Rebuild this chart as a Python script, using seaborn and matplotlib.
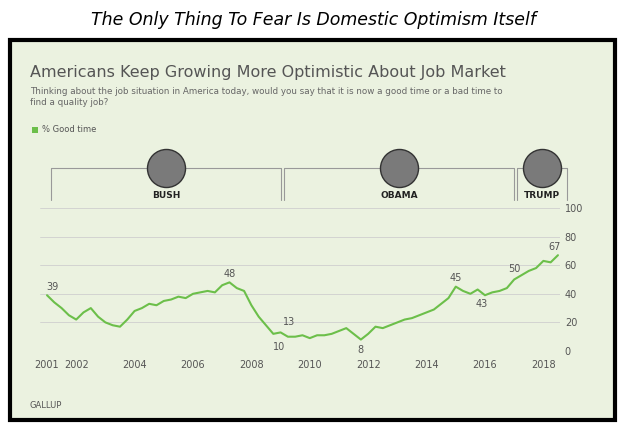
# gallup_jobs_demo.py
import pandas as pd
import numpy as np
import matplotlib.pyplot as plt
import matplotlib.transforms as mtransforms
from matplotlib.patches import Rectangle
import seaborn as sns

sns.set(style="white")

# ---------- Data (quarterly, % good time) ----------
good = [39, 34, 30, 25, 22, 27, 30, 24, 20, 18, 17, 22, 28, 30, 33, 32,
        35, 36, 38, 37, 40, 41, 42, 41, 46, 48, 44, 42, 32, 24, 18, 12,
        13, 10, 10, 11, 9, 11, 11, 12, 14, 16, 12, 8, 12, 17, 16, 18,
        20, 22, 23, 25, 27, 29, 33, 37, 45, 42, 40, 43, 39, 41, 42, 44,
        50, 53, 56, 58, 63, 62, 67]
df = pd.DataFrame({"year": 2001 + np.arange(len(good)) * 0.25, "good": good})

green = '#6cbf4a'
bg = '#ebf2e0'

fig = plt.figure(figsize=(6.27, 4.30), dpi=100)
fig.patch.set_facecolor('white')
fig.patches.append(Rectangle((10/627, 1-420/430), 605/627, 380/430, transform=fig.transFigure,
                             facecolor=bg, edgecolor='black', linewidth=3, zorder=-1))
fig.text(0.5, 1-20/430, 'The Only Thing To Fear Is Domestic Optimism Itself',
         ha='center', va='center', fontsize=12.5, style='italic', color='black')
fig.text(30/627, 1-72/430, 'Americans Keep Growing More Optimistic About Job Market',
         fontsize=11.5, color='#555555', va='center')
fig.text(30/627, 1-97/430, 'Thinking about the job situation in America today, would you say that it is now a good time or a bad time to\nfind a quality job?',
         fontsize=6.3, color='#666666', va='center', linespacing=1.4)
fig.patches.append(Rectangle((32/627, 1-133/430), 6/627, 6/430, transform=fig.transFigure,
                             facecolor=green, edgecolor='none'))
fig.text(42/627, 1-130/430, '% Good time', fontsize=6, color='#555555', va='center')
fig.text(30/627, 1-405/430, 'GALLUP', fontsize=6, color='#555555', va='center')

ax = fig.add_axes([40/627, 1-351/430, 520/627, 143/430])
ax.set_facecolor(bg)
sns.lineplot(data=df, x='year', y='good', ax=ax, color=green, linewidth=1.5)
ax.set_xlim(2000.76, 2018.57)
ax.set_ylim(0, 100)
ax.yaxis.tick_right()
ax.set_yticks([0, 20, 40, 60, 80, 100])
ax.set_xticks([2001, 2002, 2004, 2006, 2008, 2010, 2012, 2014, 2016, 2018])
ax.tick_params(axis='both', labelsize=7, colors='#555555', length=0)
ax.tick_params(axis='x', length=3, color='#999999')
ax.grid(axis='y', color='#cfcfcf', linewidth=0.6)
for s in ax.spines.values():
    s.set_visible(False)
ax.set_xlabel(''); ax.set_ylabel('')

# point labels
for x, y, t, dy in [(2001.2, 39, '39', 6), (2007.25, 48, '48', 6), (2008.95, 10, '10', -7),
                    (2009.3, 13, '13', 7), (2011.75, 8, '8', -7), (2015.0, 45, '45', 6),
                    (2015.9, 43, '43', -10), (2017.0, 50, '50', 7), (2018.4, 67, '67', 6)]:
    ax.text(x, y + dy, t, fontsize=7, color='#555555', ha='center', va='center')

# presidency brackets
trans = mtransforms.blended_transform_factory(ax.transData, fig.transFigure)
ytop, ybot, yname = 1-168/430, 1-200/430, 1-196/430
for x0, x1, name in [(2001.15, 2009.0, 'BUSH'), (2009.1, 2017.0, 'OBAMA'), (2017.1, 2018.8, 'TRUMP')]:
    ax.plot([x0, x0, x1, x1], [ybot, ytop, ytop, ybot], transform=trans, color='#999999',
            linewidth=0.8, clip_on=False)
    xm = (x0 + x1) / 2
    ax.text(xm, yname, name, transform=trans, fontsize=6.5, fontweight='bold', ha='center',
            va='center', color='#222222', bbox=dict(facecolor=bg, edgecolor='none', pad=2))
    ax.scatter([xm], [ytop], s=750, transform=trans, color='#7a7a7a', edgecolor='#333333',
               clip_on=False, zorder=5)

plt.savefig('out.png', dpi=100)
